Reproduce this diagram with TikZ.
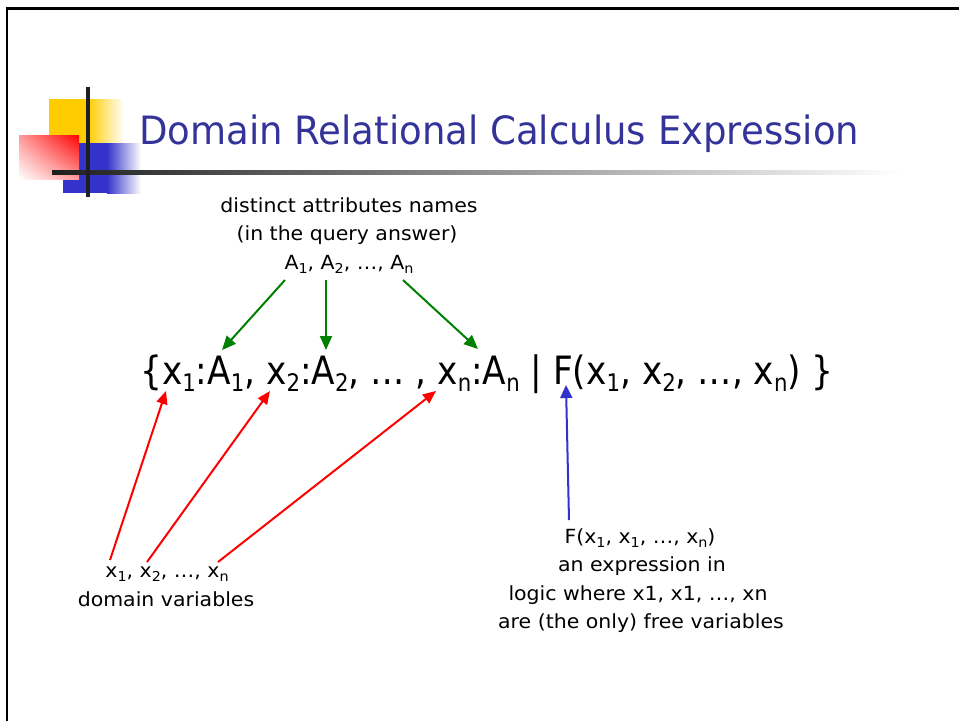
\documentclass[tikz,border=0pt]{standalone}
\usepackage{fontspec}
\setmainfont{DejaVu Sans}
\newfontfamily\titlefont[FakeStretch=0.95]{DejaVu Sans}
\newfontfamily\exprfont[FakeStretch=0.88]{DejaVu Sans}
\newfontfamily\smallfont[FakeStretch=1.05]{DejaVu Sans}
\usetikzlibrary{arrows.meta,shadings}
\definecolor{titleblue}{HTML}{333399}
\definecolor{logoyellow}{HTML}{FFCC00}
\definecolor{logoblue}{HTML}{3333CC}
\definecolor{arrgreen}{HTML}{008000}
\definecolor{arrblue}{HTML}{3333CC}
\newcommand\sbs[1]{\raisebox{-0.22em}{\scalebox{0.7}{#1}}}
\newcommand\esbs[1]{\raisebox{-0.2em}{\scalebox{0.62}{#1}}}
\tikzset{
  lbl/.style={inner sep=0pt, anchor=base, font=\smallfont\fontsize{19.5}{24}\selectfont},
  bigtxt/.style={inner sep=0pt, anchor=base west, font=\exprfont\fontsize{39}{47}\selectfont},
  titletxt/.style={inner sep=0pt, anchor=base west, text=titleblue, font=\titlefont\fontsize{39}{47}\selectfont},
  garrow/.style={draw=arrgreen, fill=arrgreen, line width=2pt, -{Triangle[length=14pt,width=12pt]}},
  rarrow/.style={draw=red, fill=red, line width=2pt, -{Triangle[length=13pt,width=11pt]}},
  barrow/.style={draw=arrblue, fill=arrblue, line width=2pt, -{Triangle[length=13pt,width=12pt]}},
}
\begin{document}
\begin{tikzpicture}[x=1pt,y=-1pt]
\useasboundingbox (0,0) rectangle (959,721);
% frame
\draw[line width=2.7pt] (7,721) -- (7,8.5) -- (959,8.5);
% logo
\fill[logoyellow] (49,99) rectangle (88,143);
\shade[left color=logoyellow, right color=white] (88,99) rectangle (124,143);
\fill[logoblue] (63,143) rectangle (107,193);
\shade[left color=logoblue, right color=white] (107,143) rectangle (141,193);
\shade[upper right=red, lower left=white, upper left=red!40!white, lower right=red!40!white] (19,135) rectangle (79,179);
\shade[left color=black!88, right color=white] (52,170) rectangle (900,174);
\fill[black!88] (86,87) rectangle (90,197);
% title
\node[titletxt] (title) at (139,144.5) {Domain Relational Calculus Expression};
% top labels
\node[lbl] (t1) at (349,212.5) {distinct attributes names};
\node[lbl] (t2) at (347,240.5) {(in the query answer)};
\node[lbl] (t3) at (349,269) {A\sbs{1}, A\sbs{2}, …, A\sbs{n}};
% expression
\node[bigtxt] (expr) at (140,384) {\{x\esbs{1}:A\esbs{1}, x\esbs{2}:A\esbs{2}, … , x\esbs{n}:A\esbs{n} | F(x\esbs{1}, x\esbs{2}, …, x\esbs{n}) \}};
% bottom left labels
\node[lbl] (b1) at (167,577.3) {x\sbs{1}, x\sbs{2}, …, x\sbs{n}};
\node[lbl] (b2) at (166,606.5) {domain variables};
% bottom right labels
\node[lbl] (r1) at (640,543) {F(x\sbs{1}, x\sbs{1}, …, x\sbs{n})};
\node[lbl] (r2) at (642,571) {an expression in};
\node[lbl] (r3) at (638,600) {logic where x1, x1, …, xn};
\node[lbl] (r4) at (641,628) {are (the only) free variables};
% arrow end points
\coordinate (gs1) at (285,280); \coordinate (ge1) at (222,350);
\coordinate (gs2) at (326,280); \coordinate (ge2) at (326,350);
\coordinate (gs3) at (403,280); \coordinate (ge3) at (478,349);
\coordinate (rs1) at (110,560); \coordinate (re1) at (166,391);
\coordinate (rs2) at (147,562); \coordinate (re2) at (270,391);
\coordinate (rs3) at (218,562); \coordinate (re3) at (436,391);
\coordinate (bs1) at (569,520); \coordinate (be1) at (566,385);
\draw[garrow] (gs1) -- (ge1);
\draw[garrow] (gs2) -- (ge2);
\draw[garrow] (gs3) -- (ge3);
\draw[rarrow] (rs1) -- (re1);
\draw[rarrow] (rs2) -- (re2);
\draw[rarrow] (rs3) -- (re3);
\draw[barrow] (bs1) -- (be1);
\end{tikzpicture}
\end{document}
